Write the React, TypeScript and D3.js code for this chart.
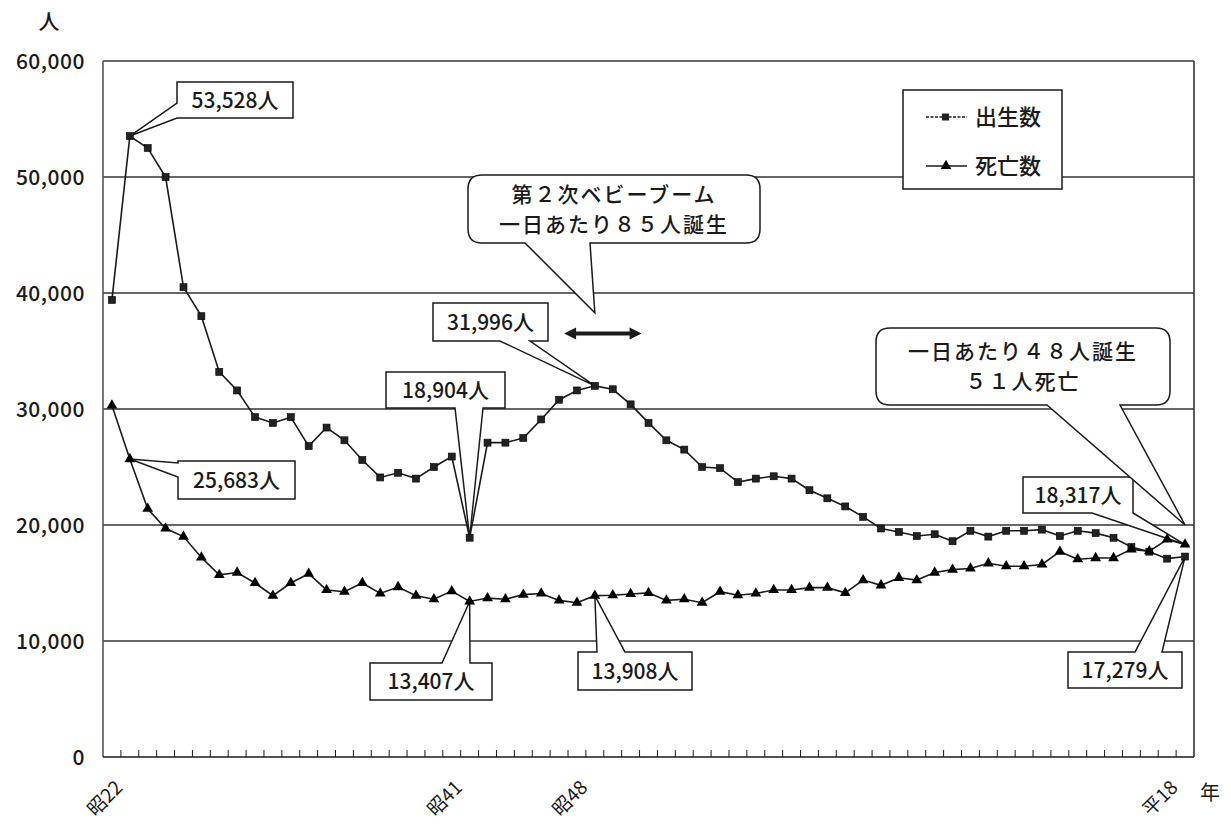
import * as d3 from "d3";

// 出生数・死亡数の推移 (昭21〜平18)
const YEARS = [
  1946, 1947, 1948, 1949, 1950, 1951, 1952, 1953, 1954, 1955,
  1956, 1957, 1958, 1959, 1960, 1961, 1962, 1963, 1964, 1965,
  1966, 1967, 1968, 1969, 1970, 1971, 1972, 1973, 1974, 1975,
  1976, 1977, 1978, 1979, 1980, 1981, 1982, 1983, 1984, 1985,
  1986, 1987, 1988, 1989, 1990, 1991, 1992, 1993, 1994, 1995,
  1996, 1997, 1998, 1999, 2000, 2001, 2002, 2003, 2004, 2005,
  2006,
];

const BIRTHS = [
  39400, 53528, 52500, 50000, 40500, 38000, 33200, 31600, 29300, 28800,
  29300, 26800, 28400, 27300, 25600, 24100, 24500, 24000, 25000, 25900,
  18904, 27100, 27100, 27500, 29100, 30800, 31600, 31996, 31700, 30400,
  28800, 27300, 26500, 25000, 24900, 23700, 24000, 24200, 24000, 23000,
  22300, 21600, 20700, 19700, 19400, 19050, 19200, 18600, 19500, 19000,
  19500, 19500, 19600, 19050, 19500, 19300, 18900, 18100, 17700, 17100,
  17279,
];

const DEATHS = [
  30300, 25683, 21400, 19700, 19000, 17200, 15700, 15900, 15000, 13900,
  15000, 15800, 14400, 14250, 15000, 14100, 14650, 13900, 13600, 14300,
  13407, 13700, 13600, 14000, 14100, 13500, 13300, 13908, 13950, 14050,
  14150, 13500, 13600, 13300, 14250, 13950, 14100, 14400, 14400, 14600,
  14600, 14150, 15250, 14800, 15450, 15250, 15900, 16150, 16250, 16700,
  16450, 16450, 16600, 17700, 17050, 17150, 17150, 17900, 17750, 18750,
  18317,
];

const X_LABELS: [number, string][] = [
  [1947, "昭22"],
  [1966, "昭41"],
  [1973, "昭48"],
  [2006, "平18"],
];

const Y_TICKS = [0, 10000, 20000, 30000, 40000, 50000, 60000];
const SERIES_NAMES = ["出生数", "死亡数"];

const W = 1231;
const H = 827;
const PLOT = { left: 103, right: 1194, top: 61, bottom: 757 };
const FONT = "'Noto Sans CJK JP', 'Noto Sans', sans-serif";
const INK = "#1a1a1a";

// value callouts (box = x, y, w, h ; base = where the wedge leaves the box)
const CALLOUTS = [
  { s: "b", year: 1947, box: [177, 82, 116, 36], side: "left", base: [103, 118] },
  { s: "d", year: 1947, box: [178, 461, 117, 38], side: "left", base: [463, 477] },
  { s: "b", year: 1966, box: [386, 372, 119, 36], side: "bottom", base: [455, 483] },
  { s: "b", year: 1973, box: [433, 303, 115, 38], side: "bottom", base: [500, 530] },
  { s: "d", year: 1966, box: [370, 663, 122, 37], side: "top", base: [442, 470] },
  { s: "d", year: 1973, box: [578, 652, 114, 38], side: "top", base: [597, 625] },
  { s: "d", year: 2006, box: [1023, 477, 110, 36], side: "bottom", base: [1092, 1133] },
  { s: "b", year: 2006, box: [1068, 652, 114, 36], side: "top", base: [1135, 1162] },
];

const NOTES = [
  { lines: ["第２次ベビーブーム", "一日あたり８５人誕生"], box: [468, 175, 292, 68], base: [525, 590], year: 1973, tipValue: 38300 },
  { lines: ["一日あたり４８人誕生", "５１人死亡"], box: [876, 328, 294, 77], base: [1047, 1120], year: 2006, tipValue: 20000 },
];

const fmt = d3.format(",");

function wedgeBox(box: number[], side: string, base: number[], tx: number, ty: number) {
  const [x, y, w, h] = box;
  const [b1, b2] = base;
  if (side === "left")
    return `M${x},${y}H${x + w}V${y + h}H${x}V${b2}L${tx},${ty}L${x},${b1}Z`;
  if (side === "top")
    return `M${x},${y}H${b1}L${tx},${ty}L${b2},${y}H${x + w}V${y + h}H${x}Z`;
  return `M${x},${y}H${x + w}V${y + h}H${b2}L${tx},${ty}L${b1},${y + h}H${x}Z`;
}

function roundWedge(box: number[], base: number[], tx: number, ty: number, r = 14) {
  const [x, y, w, h] = box;
  const [b1, b2] = base;
  return (
    `M${x + r},${y}H${x + w - r}Q${x + w},${y} ${x + w},${y + r}` +
    `V${y + h - r}Q${x + w},${y + h} ${x + w - r},${y + h}` +
    `H${b2}L${tx},${ty}L${b1},${y + h}` +
    `H${x + r}Q${x},${y + h} ${x},${y + h - r}V${y + r}Q${x},${y} ${x + r},${y}Z`
  );
}

export default function App() {
  const x = d3
    .scaleBand<number>()
    .domain(YEARS)
    .range([PLOT.left, PLOT.right])
    .padding(0);
  const bw = x.bandwidth();
  const cx = (yr: number) => (x(yr) ?? 0) + bw / 2;
  const y = d3.scaleLinear().domain([0, 60000]).range([PLOT.bottom, PLOT.top]);

  const line = d3
    .line<number>()
    .x((_, i) => cx(YEARS[i]))
    .y((d) => y(d));

  const valueOf = (s: string, yr: number) =>
    (s === "b" ? BIRTHS : DEATHS)[YEARS.indexOf(yr)];

  const tri = d3.symbol(d3.symbolTriangle, 50)() ?? "";
  const boomY = y(36500);
  const ax0 = cx(1971) + 5;
  const ax1 = cx(1975) + 11;

  return (
    <svg
      width={W}
      height={H}
      style={{ position: "absolute", left: 0, top: 0, background: "#fff" }}
      fontFamily={FONT}
    >
      <rect x={0} y={0} width={W} height={H} fill="#fff" />

      {/* gridlines */}
      {Y_TICKS.filter((t) => t > 0).map((t) => (
        <line key={t} x1={PLOT.left} x2={PLOT.right} y1={y(t)} y2={y(t)} stroke="#333" strokeWidth={1.4} />
      ))}
      {/* plot frame */}
      <line x1={PLOT.left} x2={PLOT.left} y1={PLOT.top} y2={PLOT.bottom} stroke="#555" strokeWidth={1.6} />
      <line x1={PLOT.right} x2={PLOT.right} y1={PLOT.top} y2={PLOT.bottom} stroke="#333" strokeWidth={1.6} />
      <line x1={PLOT.left} x2={PLOT.right} y1={PLOT.bottom} y2={PLOT.bottom} stroke={INK} strokeWidth={1.6} />

      {/* x ticks at band edges */}
      {YEARS.slice(1).map((yr) => (
        <line key={yr} x1={x(yr)} x2={x(yr)} y1={PLOT.bottom} y2={PLOT.bottom - 7} stroke={INK} strokeWidth={1} />
      ))}

      {/* y tick labels */}
      {Y_TICKS.map((t) => (
        <text key={t} x={85} y={y(t)} dy="0.36em" textAnchor="end" fontSize={21} fontWeight={500} letterSpacing={0.5} fill={INK}>
          {fmt(t)}
        </text>
      ))}
      <text x={49} y={21} dy="0.36em" textAnchor="middle" fontSize={21} fontWeight={500} fill={INK}>人</text>

      {/* x labels */}
      {X_LABELS.map(([yr, lab]) => (
        <text
          key={yr}
          transform={`translate(${cx(yr) - 11},${PLOT.bottom + 27}) rotate(-45)`}
          textAnchor="end"
          dy="0.36em"
          fontSize={19}
          fill={INK}
        >
          {lab}
        </text>
      ))}
      <text x={1210} y={793} dy="0.36em" textAnchor="middle" fontSize={20} fill={INK}>年</text>

      {/* series lines */}
      <path d={line(BIRTHS) ?? ""} fill="none" stroke={INK} strokeWidth={1.6} />
      <path d={line(DEATHS) ?? ""} fill="none" stroke={INK} strokeWidth={1.6} />

      {/* value callouts */}
      {CALLOUTS.map((c, i) => {
        const v = valueOf(c.s, c.year);
        const [bx, by, bwid, bh] = c.box;
        return (
          <g key={i}>
            <path d={wedgeBox(c.box, c.side, c.base, cx(c.year), y(v))} fill="#fff" stroke={INK} strokeWidth={1.5} />
            <text x={bx + bwid / 2} y={by + bh / 2} dy="0.36em" textAnchor="middle" fontSize={21} fontWeight={500} fill={INK}>
              {fmt(v)}人
            </text>
          </g>
        );
      })}

      {/* markers */}
      {BIRTHS.map((v, i) => (
        <rect key={i} x={cx(YEARS[i]) - 3.5} y={y(v) - 3.5} width={7} height={7} fill="#222" stroke="#000" strokeWidth={0.6} />
      ))}
      {DEATHS.map((v, i) => (
        <path key={i} d={tri} transform={`translate(${cx(YEARS[i])},${y(v)})`} fill="#000" />
      ))}

      {/* big notes */}
      {NOTES.map((n, i) => {
        const [bx, by, bwid, bh] = n.box;
        return (
          <g key={i}>
            <path d={roundWedge(n.box, n.base, cx(n.year), y(n.tipValue))} fill="#fff" stroke={INK} strokeWidth={1.5} />
            {n.lines.map((ln, j) => (
              <text
                key={j}
                x={bx + bwid / 2}
                y={by + bh / 2 + (j - 0.5) * 30}
                dy="0.36em"
                textAnchor="middle"
                fontSize={21}
                fontWeight={500}
                letterSpacing={2}
                fill={INK}
              >
                {ln}
              </text>
            ))}
          </g>
        );
      })}

      {/* 2nd baby boom double arrow */}
      <path
        d={`M${ax0},${boomY}L${ax0 + 12},${boomY - 6}V${boomY - 2}H${ax1 - 12}V${boomY - 6}L${ax1},${boomY}L${ax1 - 12},${boomY + 6}V${boomY + 2}H${ax0 + 12}V${boomY + 6}Z`}
        fill={INK}
      />

      {/* legend */}
      <g>
        <rect x={903} y={90} width={159} height={99} fill="#fff" stroke={INK} strokeWidth={1.5} />
        {SERIES_NAMES.map((name, i) => {
          const ly = 117 + i * 49;
          return (
            <g key={name}>
              <line x1={926} x2={967} y1={ly} y2={ly} stroke={INK} strokeWidth={1.6} strokeDasharray={i === 0 ? "3,1.5" : undefined} />
              {i === 0 ? (
                <rect x={942} y={ly - 3.5} width={7} height={7} fill="#222" />
              ) : (
                <path d={tri} transform={`translate(${946},${ly})`} fill="#000" />
              )}
              <text x={975} y={ly} dy="0.36em" fontSize={22} fontWeight={500} fill={INK}>{name}</text>
            </g>
          );
        })}
      </g>
    </svg>
  );
}
